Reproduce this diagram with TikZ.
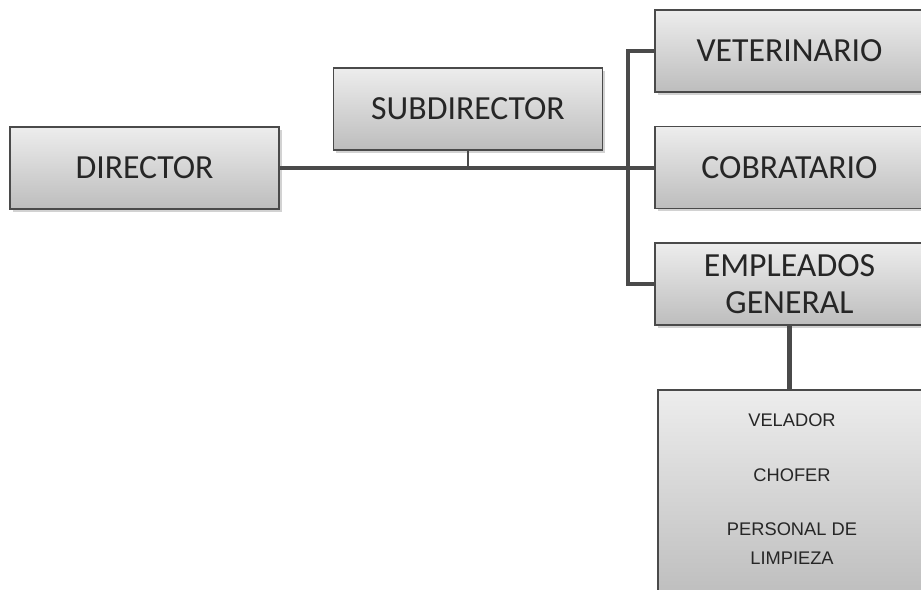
\documentclass[tikz,border=0pt]{standalone}
\usepackage{fontspec}
\setmainfont{Carlito}
\newfontfamily\arialfont{Liberation Sans}
\usetikzlibrary{shadows}
\definecolor{linegray}{HTML}{4A4A4A}
\definecolor{boxtop}{HTML}{EDEDED}
\definecolor{boxbot}{HTML}{BDBDBD}
\begin{document}
\begin{tikzpicture}[x=0.025cm,y=-0.025cm,
  puesto/.style={draw=linegray,line width=0.8pt,top color=boxtop,bottom color=boxbot,
    minimum width=6.725cm,minimum height=2.05cm,inner sep=0pt,
    drop shadow={opacity=0.35,shadow xshift=2pt,shadow yshift=-2pt},
    font=\fontsize{24}{26}\selectfont,text=black!85,align=center},
  enlace/.style={draw=linegray,line width=2.6pt}]
\clip (0,0) rectangle (921,590);
\fill[white] (0,0) rectangle (921,590);
\path
(628,0) coordinate (bus);
\node[puesto] (dir) at (144.5,168) {DIRECTOR};
\node[puesto] (sub) at (468,109) {SUBDIRECTOR};
\node[puesto] (vet) at (789.5,51) {VETERINARIO};
\node[puesto] (cob) at (789.5,167.5) {COBRATARIO};
\node[puesto] (emp) at (789.5,284) {EMPLEADOS\\GENERAL};
\node[puesto,minimum width=6.675cm,minimum height=5.25cm] (staff) at (791.5,495) {};
\node[font=\arialfont\fontsize{13}{20.5}\selectfont,text=black!85,align=center] (tareas) at (792,489)
  {VELADOR\\[19pt]CHOFER\\[18pt]PERSONAL DE\\LIMPIEZA};
\draw[enlace](dir.east)--(dir.east-|cob.west);
\draw[enlace,line width=1.8pt](sub.south)--(sub.south|-dir.east);
\draw[enlace](vet.west)--(vet.west-|bus)|-(emp.west);
\draw[enlace,line width=3.5pt](emp.south)--(emp.south|-staff.north);
\end{tikzpicture}
\end{document}
